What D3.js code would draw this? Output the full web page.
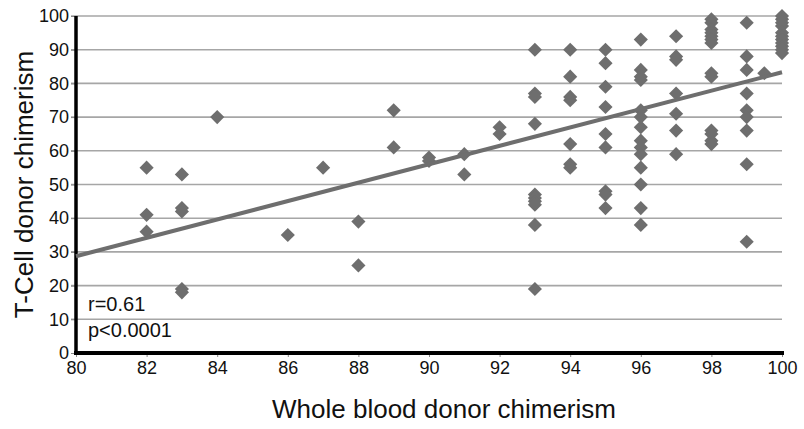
<!DOCTYPE html>
<html>
<head>
<meta charset="utf-8">
<script src="https://cdn.jsdelivr.net/npm/d3@7"></script>
<style>
    body { margin: 0; background: #fff; }
    svg text { font-family: "Liberation Sans", Arial, Helvetica, sans-serif; fill: #111; }
</style>
</head>
<body>
<svg id="chart" width="804" height="429"></svg>
<script>
// ------------------ DATA ------------------

const wholeBlood = [82, 83, 84, 86, 87, 88, 89, 90, 91, 92, 93, 94, 95, 96, 97, 98, 99, 99.5, 100];
const tCell = [
    [55, 41, 36],
    [53, 43, 42, 19, 18],
    [70],
    [35],
    [55],
    [39, 26],
    [72, 61],
    [58, 57],
    [59, 53],
    [67, 65],
    [90, 77, 76, 68, 47, 46, 45, 44, 38, 19],
    [90, 82, 76, 75, 62, 56, 55],
    [90, 86, 79, 73, 65, 61, 48, 47, 43],
    [93, 84, 82, 81, 72, 70, 67, 63, 61, 59, 55, 50, 43, 38],
    [94, 88, 87, 77, 71, 66, 59],
    [99, 98, 96, 95, 94, 93, 92, 83, 82, 66, 65, 63, 62],
    [98, 88, 84, 77, 72, 70, 66, 56, 33],
    [83],
    [100, 99, 98, 97, 95, 94, 93, 92, 91, 90, 89]
];

// regression line end points
const trendX = [80, 100];
const trendY = [28.7, 83.3];

const xTicks = [80, 82, 84, 86, 88, 90, 92, 94, 96, 98, 100];
const yTicks = [0, 10, 20, 30, 40, 50, 60, 70, 80, 90, 100];
const stats = ["r=0.61", "p<0.0001"];

// ------------------ LAYOUT ------------------

let svg = d3.select("#chart");
let plotLeft = 76, plotRight = 782, plotTop = 16, plotBottom = 353;
let markColor = "#6e6e6e";

let x = d3.scaleLinear().domain([80, 100]).range([plotLeft, plotRight]);
let y = d3.scaleLinear().domain([0, 100]).range([plotBottom, plotTop]);

let points = [];
for (let i = 0; i < wholeBlood.length; i++) {
    for (let j = 0; j < tCell[i].length; j++) {
        points.push({ x: wholeBlood[i], y: tCell[i][j] });
    }
}

// ------------------ GRID ------------------

svg.append("g")
    .selectAll("line")
    .data(yTicks.filter(d => d > 0))
    .enter().append("line")
    .attr("x1", plotLeft - 5)
    .attr("x2", plotRight)
    .attr("y1", d => y(d))
    .attr("y2", d => y(d))
    .attr("stroke", "#a6a6a6")
    .attr("stroke-width", 1.6);

// ------------------ AXES ------------------

let yAxis = svg.append("g")
    .attr("transform", "translate(" + plotLeft + ",0)")
    .call(d3.axisLeft(y).tickValues(yTicks).tickSize(5).tickPadding(2));

let xAxis = svg.append("g")
    .attr("transform", "translate(0," + plotBottom + ")")
    .call(d3.axisBottom(x).tickValues(xTicks).tickSize(4).tickPadding(4));

[xAxis, yAxis].forEach(a => {
    a.select(".domain").remove();
    a.selectAll("text").attr("font-size", 18).attr("fill", "#111");
    a.selectAll(".tick line").attr("stroke", "#888").attr("stroke-width", 1);
});

// thick black axis lines
svg.append("line")
    .attr("x1", plotLeft).attr("x2", plotLeft)
    .attr("y1", plotTop).attr("y2", plotBottom + 2)
    .attr("stroke", "#000").attr("stroke-width", 3.5);

svg.append("line")
    .attr("x1", plotLeft - 2).attr("x2", plotRight + 2)
    .attr("y1", plotBottom).attr("y2", plotBottom)
    .attr("stroke", "#000").attr("stroke-width", 4);

// ------------------ MARKS ------------------

let diamond = d3.symbol().type(d3.symbolSquare).size(100);

svg.append("g")
    .selectAll("path")
    .data(points)
    .enter().append("path")
    .attr("d", diamond)
    .attr("transform", d => "translate(" + x(d.x) + "," + y(d.y) + ") rotate(45)")
    .attr("fill", markColor);

svg.append("line")
    .attr("x1", x(trendX[0])).attr("y1", y(trendY[0]))
    .attr("x2", x(trendX[1])).attr("y2", y(trendY[1]))
    .attr("stroke", markColor)
    .attr("stroke-width", 4);

// ------------------ TEXT ------------------

svg.selectAll(".stat")
    .data(stats)
    .enter().append("text")
    .attr("class", "stat")
    .attr("x", 88)
    .attr("y", (d, i) => 311 + i * 26)
    .attr("font-size", 20)
    .text(d => d);

svg.append("text")
    .attr("x", (plotLeft + plotRight) / 2 + 15)
    .attr("y", 418)
    .attr("text-anchor", "middle")
    .attr("font-size", 26)
    .text("Whole blood donor chimerism");

svg.append("text")
    .attr("transform", "translate(33," + (plotTop + plotBottom) / 2 + ") rotate(-90)")
    .attr("text-anchor", "middle")
    .attr("font-size", 26)
    .text("T-Cell donor chimerism");
</script>
</body>
</html>
